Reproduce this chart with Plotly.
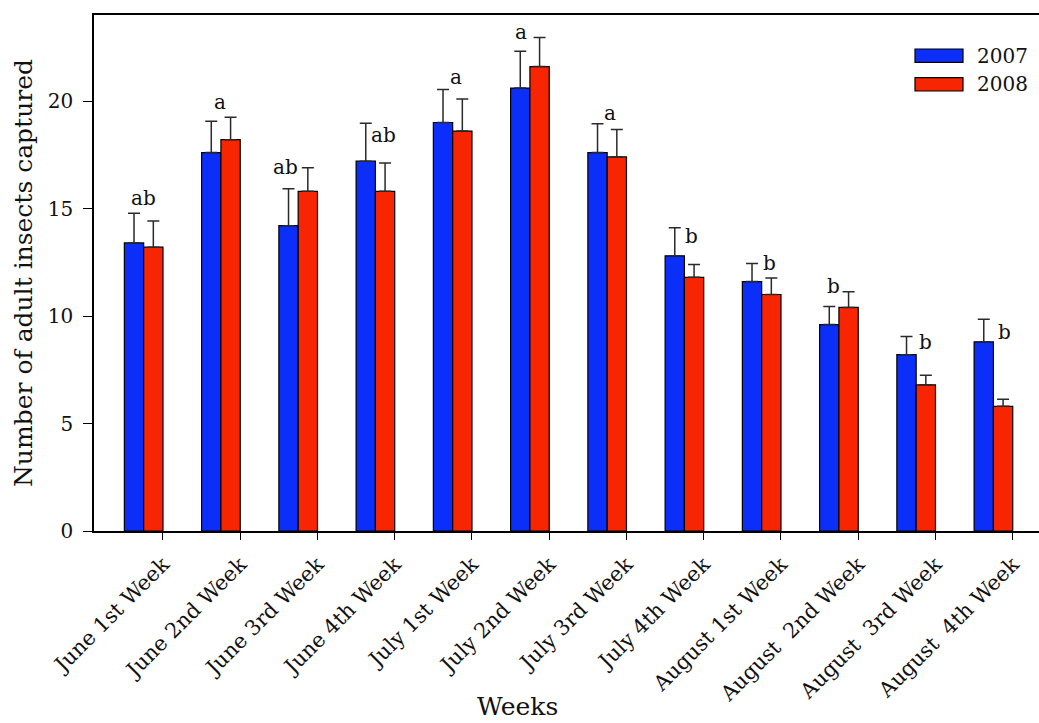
import plotly.graph_objects as go

# Weekly captures of adult insects (mean with standard error), two seasons
weeks = [
    "June 1st Week", "June 2nd Week", "June 3rd Week", "June 4th Week",
    "July 1st Week", "July 2nd Week", "July 3rd Week", "July 4th Week",
    "August 1st Week", "August\u00a0 2nd Week", "August\u00a0 3rd Week",
    "August\u00a0 4th Week",
]
mean_2007 = [13.4, 17.6, 14.2, 17.2, 19.0, 20.6, 17.6, 12.8, 11.6, 9.6, 8.2, 8.8]
se_2007 = [1.38, 1.46, 1.72, 1.77, 1.54, 1.71, 1.34, 1.30, 0.84, 0.84, 0.85, 1.05]
mean_2008 = [13.2, 18.2, 15.8, 15.8, 18.6, 21.6, 17.4, 11.8, 11.0, 10.4, 6.8, 5.8]
se_2008 = [1.22, 1.04, 1.10, 1.32, 1.49, 1.35, 1.28, 0.59, 0.77, 0.73, 0.45, 0.33]

# Mean-separation letters for each week
letters = ["ab", "a", "ab", "ab", "a", "a", "a", "b", "b", "b", "b", "b"]

y_ticks = [0, 5, 10, 15, 20]

FONT = "DejaVu Serif"
BLUE = "#0b2ef8"
RED = "#f82600"

xpos = list(range(len(weeks)))

fig = go.Figure()
for name, vals, errs, color in [
    ("2007", mean_2007, se_2007, BLUE),
    ("2008", mean_2008, se_2008, RED),
]:
    fig.add_trace(go.Bar(
        x=xpos, y=vals, name=name,
        marker=dict(color=color, line=dict(color="black", width=1.2)),
        error_y=dict(type="data", array=errs, arrayminus=[0] * len(errs),
                     symmetric=False, color="#2a2a2a", thickness=1.5, width=6),
        showlegend=False,
    ))

# Letter placement: (horizontal position on the week axis, height)
letter_place = [
    (0.0, 15.47), (0.99, 19.95), (1.84, 16.93), (3.10, 18.42),
    (4.04, 21.1), (4.89, 23.2), (6.04, 19.46), (7.095, 13.72),
    (8.095, 12.48), (8.93, 11.4), (10.12, 8.78), (11.14, 9.24),
]
for txt, (lx, ly) in zip(letters, letter_place):
    fig.add_annotation(x=lx, y=ly, text=txt, showarrow=False,
                       xref="x", yref="y",
                       font=dict(family=FONT, size=20, color="#111"))

# Legend drawn as wide swatches
for i, (name, color) in enumerate([("2007", BLUE), ("2008", RED)]):
    y0 = 1 - (49 - 15 + i * 28.7) / 516
    y1 = y0 - 13.3 / 516
    fig.add_shape(type="rect", xref="paper", yref="paper",
                  x0=(915 - 94) / 945, x1=(963 - 94) / 945, y0=y1, y1=y0,
                  fillcolor=color, line=dict(color="black", width=1.2))
    fig.add_annotation(xref="paper", yref="paper",
                       x=(975 - 94) / 945, y=(y0 + y1) / 2,
                       xanchor="left", yanchor="middle", showarrow=False,
                       text=name, font=dict(family=FONT, size=20, color="#111"))

# Axis titles
fig.add_annotation(xref="paper", yref="paper", x=(517 - 94) / 945,
                   y=-(723 - 531) / 516, text="Weeks", showarrow=False,
                   yanchor="bottom", font=dict(family=FONT, size=25, color="#111"))
fig.add_annotation(xref="paper", yref="paper", x=-(94 - 23) / 945, y=(531 - 273) / 516,
                   text="Number of adult insects captured", textangle=-90,
                   showarrow=False, xanchor="center", yanchor="middle",
                   font=dict(family=FONT, size=25, color="#111"))

fig.update_layout(
    width=1039, height=723,
    margin=dict(l=94, r=0, t=15, b=192),
    paper_bgcolor="white", plot_bgcolor="white",
    barmode="group", bargap=0.5, bargroupgap=0,
    font=dict(family=FONT, color="#111"),
    xaxis=dict(
        range=[-0.643, 11.59],
        tickmode="array", tickvals=[p + 0.25 for p in xpos], ticktext=weeks,
        tickangle=-45, ticks="outside", ticklen=7, tickcolor="black",
        tickfont=dict(family=FONT, size=21, color="#111"),
        showline=True, linecolor="black", linewidth=1.5, mirror=True,
        showgrid=False, zeroline=False, ticklabelstandoff=4,
    ),
    yaxis=dict(
        range=[0, 24],
        tickmode="array", tickvals=y_ticks,
        ticks="outside", ticklen=9, tickcolor="black",
        tickfont=dict(family=FONT, size=20, color="#111"),
        showline=True, linecolor="black", linewidth=1.5,
        showgrid=False, zeroline=False, ticklabelstandoff=6,
    ),
)

fig.write_html("out.html")
